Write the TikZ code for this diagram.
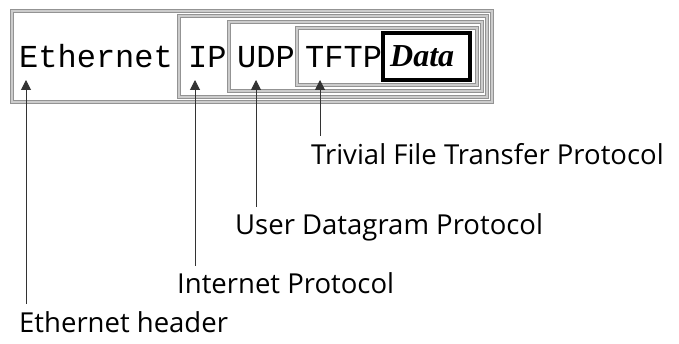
\documentclass[tikz,border=0pt]{standalone}
\usepackage{fontspec}
\setmainfont{Liberation Serif}
\setmonofont{Liberation Mono}
\newfontfamily\labelfont{Open Sans}
\usetikzlibrary{arrows.meta}
\begin{document}
\begin{tikzpicture}[x=1pt,y=-1pt]
			\tikzstyle{layer} = [draw=gray!85, fill=white, line width=1.2pt, double=gray!40, double distance=1.2pt, inner sep=0pt]
			\tikzstyle{payload} = [draw=black, fill=white, line width=3.5pt, inner sep=0pt]
			\tikzstyle{field} = [anchor=base west, inner sep=0pt, font=\ttfamily\fontsize{32}{32}\selectfont]
			\tikzstyle{lbl} = [anchor=base west, inner sep=0pt, font=\labelfont\fontsize{27.5}{27.5}\selectfont]
			\tikzstyle{pointer} = [draw=black!80, line width=1pt, -{Triangle[width=10pt,length=10pt]}]
			\useasboundingbox (0,0) rectangle (679,344);
			% nested headers
			\node[layer, minimum width=480, minimum height=91] (E) at (252,56.5) {};
			\node[layer, minimum width=308, minimum height=81] (I) at (333,56.5) {};
			\node[layer, minimum width=253, minimum height=69] (U) at (355.5,56.5) {};
			\node[layer, minimum width=180, minimum height=57] (T) at (387,56.5) {};
			\node[payload, minimum width=87, minimum height=47] (D) at (426.5,56.5) {};
			\node[field] (Et) at (19,68) {Ethernet};
			\node[field] (It) at (188,68) {IP};
			\node[field] (Ut) at (237,68) {UDP};
			\node[field] (Tt) at (305,68) {TFTP};
			\node[anchor=base west, inner sep=0pt, font=\fontsize{32}{32}\selectfont\bfseries\itshape] (Dt) at (390,67) {Data};
			% labels
			\node[lbl] (TL) at (311,165) {Trivial File Transfer Protocol};
			\node[lbl] (UL) at (235,235) {User Datagram Protocol};
			\node[lbl] (IL) at (177,293) {Internet Protocol};
			\node[lbl] (EL) at (19,332) {Ethernet header};
			\coordinate (Ep) at (26,80);
			\coordinate (Ip) at (195,80);
			\coordinate (Up) at (256,80);
			\coordinate (Tp) at (320,80);
			\draw[pointer] (Tp |- TL.north) ++(0,-8) -- (Tp);
			\draw[pointer] (Up |- UL.north) ++(0,-7) -- (Up);
			\draw[pointer] (Ip |- IL.north) ++(0,-6) -- (Ip);
			\draw[pointer] (Ep |- EL.north) ++(0,-7) -- (Ep);
\end{tikzpicture}
\end{document}
